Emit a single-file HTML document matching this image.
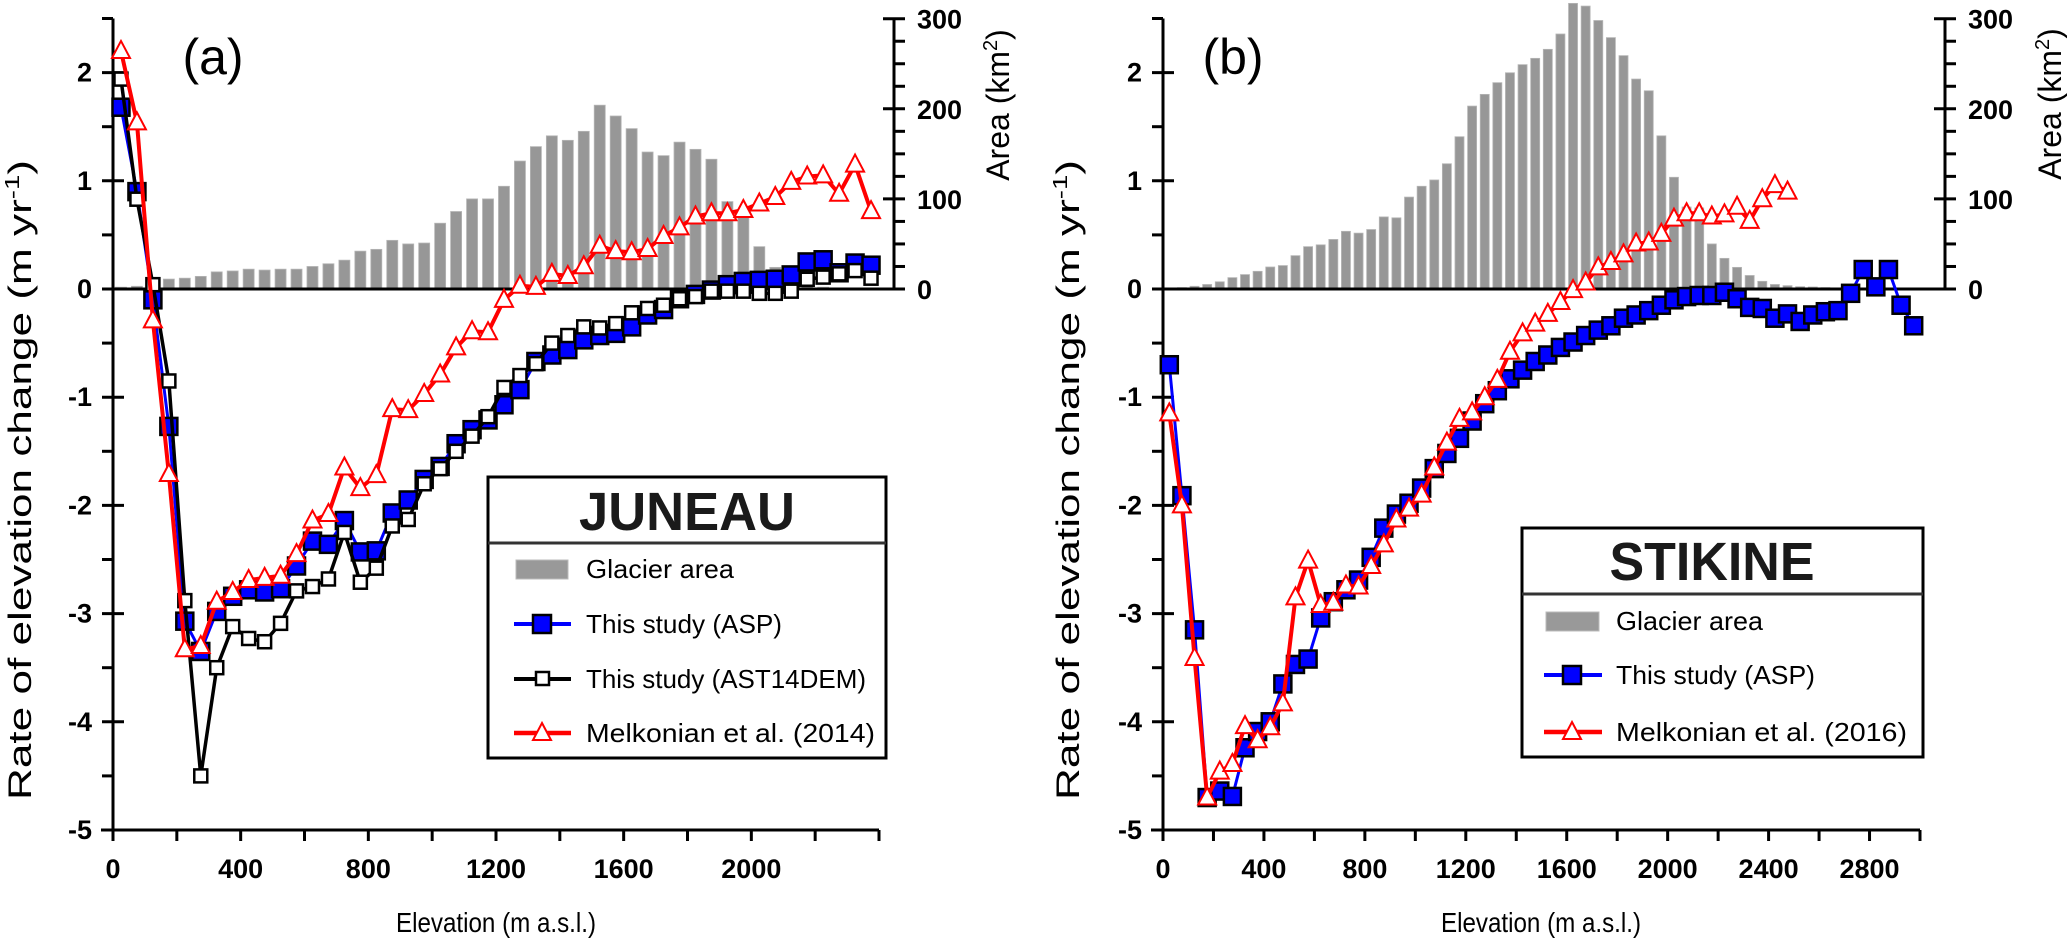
<!DOCTYPE html>
<html><head><meta charset="utf-8"><style>
html,body{margin:0;padding:0;background:#fff}
svg{display:block;font-family:"Liberation Sans",sans-serif}
</style></head><body>
<svg id="chart" width="2067" height="941" viewBox="0 0 2067 941" xmlns="http://www.w3.org/2000/svg">
<g id="layer-bars"></g>
<g id="layer-axes"></g>
<g id="layer-series"></g>
<g id="layer-text">
<text x="213" y="74" font-size="50" text-anchor="middle">(a)</text>
<text x="1233" y="74" font-size="50" text-anchor="middle">(b)</text>
<text transform="translate(31,480) rotate(-90)" font-size="32" text-anchor="middle" textLength="640" lengthAdjust="spacingAndGlyphs">Rate of elevation change (m yr<tspan dy="-12" font-size="20">-1</tspan><tspan dy="12">)</tspan></text>
<text transform="translate(1079,480) rotate(-90)" font-size="32" text-anchor="middle" textLength="640" lengthAdjust="spacingAndGlyphs">Rate of elevation change (m yr<tspan dy="-12" font-size="20">-1</tspan><tspan dy="12">)</tspan></text>
<text transform="translate(1009,105) rotate(-90)" font-size="32" text-anchor="middle">Area (km<tspan dy="-12" font-size="20">2</tspan><tspan dy="12">)</tspan></text>
<text transform="translate(2061,104) rotate(-90)" font-size="32" text-anchor="middle">Area (km<tspan dy="-12" font-size="20">2</tspan><tspan dy="12">)</tspan></text>
<text x="496" y="932" font-size="28" text-anchor="middle" textLength="200" lengthAdjust="spacingAndGlyphs">Elevation (m a.s.l.)</text>
<text x="1541" y="932" font-size="28" text-anchor="middle" textLength="200" lengthAdjust="spacingAndGlyphs">Elevation (m a.s.l.)</text>
</g>
<g id="legend-a">
<rect x="488" y="477" width="398" height="281" fill="#fff" stroke="#000" stroke-width="3"/>
<line x1="488" y1="543" x2="886" y2="543" stroke="#333" stroke-width="3"/>
<text x="687" y="530" font-size="54" font-weight="bold" text-anchor="middle" textLength="216" lengthAdjust="spacingAndGlyphs" fill="#1a1a1a">JUNEAU</text>
<rect x="516" y="560" width="52" height="19" fill="#999" stroke="#bbb" stroke-width="1"/>
<text x="586" y="578" font-size="26" textLength="148" lengthAdjust="spacingAndGlyphs">Glacier area</text>
<line x1="514" y1="624" x2="571" y2="624" stroke="#0000ff" stroke-width="4"/>
<rect x="533" y="615" width="18" height="18" fill="#0000ff" stroke="#000" stroke-width="2.5"/>
<text x="586" y="633" font-size="26" textLength="196" lengthAdjust="spacingAndGlyphs">This study (ASP)</text>
<line x1="514" y1="679" x2="571" y2="679" stroke="#000" stroke-width="4"/>
<rect x="536" y="672" width="13" height="13" fill="#fff" stroke="#000" stroke-width="2.5"/>
<text x="586" y="688" font-size="26" textLength="280" lengthAdjust="spacingAndGlyphs">This study (AST14DEM)</text>
<line x1="514" y1="733" x2="571" y2="733" stroke="#ff0000" stroke-width="4.5"/>
<polygon points="542,723 551,740 533,740" fill="#fff" stroke="#ff0000" stroke-width="2"/>
<text x="586" y="742" font-size="26" textLength="289" lengthAdjust="spacingAndGlyphs">Melkonian et al. (2014)</text>
</g>
<g id="legend-b">
<rect x="1522" y="528" width="401" height="229" fill="#fff" stroke="#000" stroke-width="3"/>
<line x1="1522" y1="594" x2="1923" y2="594" stroke="#333" stroke-width="3"/>
<text x="1712" y="580" font-size="54" font-weight="bold" text-anchor="middle" textLength="205" lengthAdjust="spacingAndGlyphs" fill="#1a1a1a">STIKINE</text>
<rect x="1546" y="612" width="53" height="19" fill="#999" stroke="#bbb" stroke-width="1"/>
<text x="1616" y="630" font-size="26" textLength="147" lengthAdjust="spacingAndGlyphs">Glacier area</text>
<line x1="1544" y1="675" x2="1602" y2="675" stroke="#0000ff" stroke-width="4"/>
<rect x="1563" y="666" width="18" height="18" fill="#0000ff" stroke="#000" stroke-width="2.5"/>
<text x="1616" y="684" font-size="26" textLength="199" lengthAdjust="spacingAndGlyphs">This study (ASP)</text>
<line x1="1544" y1="732" x2="1602" y2="732" stroke="#ff0000" stroke-width="4.5"/>
<polygon points="1572,722 1581,739 1563,739" fill="#fff" stroke="#ff0000" stroke-width="2"/>
<text x="1616" y="741" font-size="26" textLength="291" lengthAdjust="spacingAndGlyphs">Melkonian et al. (2016)</text>
</g>
</svg>
<script>
// ---------- data (bins of 50 m, centre = 25 + 50*k) ----------
const binStart = 25;
const binStep = 50;
const yTickLabels = ["2","1","0","-1","-2","-3","-4","-5"];
const yTickValues = [2,1,0,-1,-2,-3,-4,-5];
const areaTickValues = [0,100,200,300];
const xTicksA = [0,400,800,1200,1600,2000];
const xTicksB = [0,400,800,1200,1600,2000,2400,2800];

const areaA = [2,3,8,11,12,14,19,20,22,21,22,22,25,28,32,42,44,54,50,51,73,86,100,100,114,142,158,170,165,175,204,192,178,152,148,163,155,144,97,81,47,24,8,3,2,1,1,1];
const aspA = [1.68,0.90,-0.10,-1.27,-3.07,-3.35,-2.98,-2.84,-2.78,-2.80,-2.77,-2.56,-2.33,-2.36,-2.14,-2.43,-2.42,-2.07,-1.95,-1.76,-1.64,-1.43,-1.30,-1.21,-1.07,-0.93,-0.67,-0.61,-0.56,-0.47,-0.43,-0.41,-0.35,-0.24,-0.19,-0.09,-0.05,-0.01,0.04,0.07,0.08,0.09,0.13,0.25,0.27,0.15,0.24,0.22];
const astA = [1.94,0.83,0.04,-0.85,-2.88,-4.50,-3.50,-3.12,-3.23,-3.26,-3.09,-2.79,-2.75,-2.68,-2.25,-2.71,-2.58,-2.19,-2.13,-1.80,-1.66,-1.50,-1.36,-1.18,-0.91,-0.80,-0.69,-0.50,-0.43,-0.35,-0.36,-0.32,-0.22,-0.18,-0.15,-0.09,-0.07,-0.02,-0.02,-0.02,-0.04,-0.04,-0.02,0.09,0.11,0.14,0.17,0.10];
const melA = [2.20,1.54,-0.29,-1.71,-3.33,-3.30,-2.89,-2.80,-2.69,-2.67,-2.65,-2.45,-2.14,-2.08,-1.65,-1.84,-1.72,-1.11,-1.12,-0.97,-0.79,-0.54,-0.39,-0.40,-0.10,0.03,0.02,0.14,0.12,0.21,0.40,0.35,0.34,0.37,0.49,0.57,0.67,0.70,0.70,0.73,0.79,0.85,0.99,1.04,1.05,0.88,1.15,0.72];

const areaB = [0.8,1.5,3,5,8,12.6,16,19.6,24.4,26,37,47,49,55,64,62,66,80,79,102,114,121,139,169,203,216,229,240,249,256,266,283,317,314,298,279,259,233,220,170,124,91,90,50,34,24,15,8.5,5,3.7,2.6,2.2,1.5];
const aspB = [-0.70,-1.91,-3.15,-4.70,-4.64,-4.69,-4.24,-4.09,-4.00,-3.65,-3.47,-3.42,-3.04,-2.89,-2.78,-2.69,-2.48,-2.21,-2.08,-1.98,-1.84,-1.66,-1.52,-1.38,-1.22,-1.06,-0.94,-0.83,-0.75,-0.67,-0.61,-0.54,-0.49,-0.43,-0.38,-0.34,-0.27,-0.24,-0.20,-0.15,-0.10,-0.07,-0.06,-0.06,-0.03,-0.09,-0.17,-0.18,-0.27,-0.23,-0.30,-0.24,-0.21,-0.20,-0.04,0.18,0.02,0.18,-0.15,-0.34];
const melB = [-1.15,-2.00,-3.41,-4.70,-4.46,-4.39,-4.04,-4.17,-4.05,-3.83,-2.85,-2.51,-2.92,-2.90,-2.74,-2.75,-2.56,-2.36,-2.13,-2.03,-1.90,-1.65,-1.42,-1.20,-1.14,-1.00,-0.84,-0.58,-0.41,-0.32,-0.23,-0.12,-0.01,0.06,0.20,0.25,0.32,0.42,0.43,0.51,0.65,0.70,0.70,0.67,0.69,0.76,0.63,0.83,0.96,0.90];

// ---------- scales ----------
const NS = "http://www.w3.org/2000/svg";
const yV = v => 289 - 108.2 * v;
const yArea = a => 289 - a * 0.901;
const panels = {
  a: {x0: 113, xEnd: 879, maxE: 2400, rightAxis: 894, labelX: 92},
  b: {x0: 1163, xEnd: 1920, maxE: 3000, rightAxis: 1945, labelX: 1142}
};
const xScale = (p, e) => p.x0 + e * (p.xEnd - p.x0) / p.maxE;
const elev = k => binStart + binStep * k;

function mk(parent, tag, attrs, text) {
  const el = document.createElementNS(NS, tag);
  for (const k in attrs) el.setAttribute(k, attrs[k]);
  if (text !== undefined) el.textContent = text;
  parent.appendChild(el);
  return el;
}
const gBars = document.getElementById('layer-bars');
const gAxes = document.getElementById('layer-axes');
const gSeries = document.getElementById('layer-series');

function drawAxes(id, p, xTicks) {
  const ax = p.x0;
  let el = mk(gAxes, 'line', {x1: ax, y1: yV(2.5), x2: ax, y2: yV(-5), stroke: '#000', 'stroke-width': 3});
  
  
  for (let v = -5; v <= 2.5; v += 0.5) {
    const major = Number.isInteger(v);
    el = mk(gAxes, 'line', {x1: ax - 11, y1: yV(v), x2: major ? ax + 11 : ax, y2: yV(v), stroke: '#000', 'stroke-width': 3});
    
    
  }
  yTickValues.forEach((v, i) => {
    const t = mk(gAxes, 'text', {x: p.labelX, y: yV(v) + 9, 'font-size': 27, 'font-weight': 'bold', 'text-anchor': 'end'}, yTickLabels[i]);
    
    
  });
  el = mk(gAxes, 'line', {x1: ax - 12, y1: yV(-5), x2: p.xEnd, y2: yV(-5), stroke: '#000', 'stroke-width': 3});
  
  
  for (let e = 0; e <= p.maxE; e += 200) {
    el = mk(gAxes, 'line', {x1: xScale(p, e), y1: yV(-5), x2: xScale(p, e), y2: yV(-5) + 11, stroke: '#000', 'stroke-width': 3});
    
    
  }
  xTicks.forEach(e => {
    const t = mk(gAxes, 'text', {x: xScale(p, e), y: 878, 'font-size': 27, 'font-weight': 'bold', 'text-anchor': 'middle'}, String(e));
    
    
  });
  const rx = p.rightAxis;
  el = mk(gAxes, 'line', {x1: rx, y1: yArea(300), x2: rx, y2: yArea(0), stroke: '#000', 'stroke-width': 3});
  
  
  for (let a = 0; a <= 300; a += 25) {
    const major = a % 100 === 0;
    el = mk(gAxes, 'line', {x1: major ? rx - 11 : rx, y1: yArea(a), x2: rx + 11, y2: yArea(a), stroke: '#000', 'stroke-width': 3});
    
    
  }
  areaTickValues.forEach(a => {
    const t = mk(gAxes, 'text', {x: rx + 23, y: yArea(a) + 10, 'font-size': 27, 'font-weight': 'bold'}, String(a));
    
    
  });
  el = mk(gAxes, 'line', {x1: ax, y1: yV(0), x2: rx, y2: yV(0), stroke: '#000', 'stroke-width': 3});
  
  
}

function drawBars(id, p, vals, w) {
  vals.forEach((a, k) => {
    const x = xScale(p, elev(k));
    const r = mk(gBars, 'rect', {x: x - w / 2, y: yArea(a), width: w, height: yArea(0) - yArea(a), fill: '#979797', stroke: '#b5b5b5', 'stroke-width': 0.8});
    
    
  });
}

function drawSeries(id, p, vals, color, lw, marker) {
  const pts = vals.map((v, k) => [xScale(p, elev(k)), yV(v)]);
  const pl = mk(gSeries, 'polyline', {points: pts.map(q => q.join(',')).join(' '), fill: 'none', stroke: color, 'stroke-width': lw, 'stroke-linejoin': 'round'});
  
  
  pts.forEach(([x, y]) => {
    let m;
    if (marker === 'blue') {
      m = mk(gSeries, 'rect', {x: x - 8.5, y: y - 8.5, width: 17, height: 17, fill: '#0000ff', stroke: '#000', 'stroke-width': 2.5});
    } else if (marker === 'open') {
      m = mk(gSeries, 'rect', {x: x - 6.5, y: y - 6.5, width: 13, height: 13, fill: '#fff', stroke: '#000', 'stroke-width': 2.5});
    } else {
      m = mk(gSeries, 'polygon', {points: `${x},${y - 10} ${x + 9},${y + 7} ${x - 9},${y + 7}`, fill: '#fff', stroke: '#ff0000', 'stroke-width': 2});
    }
    
    
  });
}

drawBars('a', panels.a, areaA, 11);
drawBars('b', panels.b, areaB, 9);
drawAxes('a', panels.a, xTicksA);
drawAxes('b', panels.b, xTicksB);
drawSeries('asp-a', panels.a, aspA, '#0000ff', 3, 'blue');
drawSeries('ast14dem-a', panels.a, astA, '#000', 3.5, 'open');
drawSeries('melkonian-2014', panels.a, melA, '#ff0000', 4, 'tri');
drawSeries('asp-b', panels.b, aspB, '#0000ff', 3, 'blue');
drawSeries('melkonian-2016', panels.b, melB, '#ff0000', 4, 'tri');
</script>
</body></html>
